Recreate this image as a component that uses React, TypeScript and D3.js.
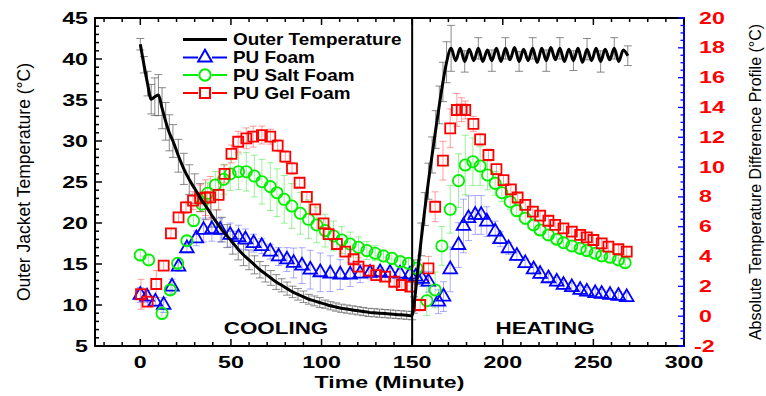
import React from "react"
import { scaleLinear, line, curveMonotoneX, symbol, symbolTriangle, symbolCircle, symbolSquare } from "d3"

// [time (min), temperature, error]
const outerTemp: [number, number, number][] = [
  [0, 41.8, 0.7], [2, 39.3, 1.0], [4, 37.0, 1.5], [6, 35.1, 1.8], [8, 35.4, 2.3], [10, 35.6, 2.5],
  [12, 34.0, 2.5], [14, 32.4, 2.3], [16, 31.0, 2.2], [18, 30.0, 2.0], [21, 28.2, 2.0], [24, 26.6, 1.9],
  [27, 25.3, 1.8], [30, 24.2, 1.8], [33, 23.1, 1.7], [36, 22.1, 1.7], [39, 21.1, 1.6], [42, 20.1, 1.5],
  [45, 19.2, 1.5], [48, 18.4, 1.4], [51, 17.6, 1.4], [54, 16.8, 1.3], [57, 16.1, 1.3], [60, 15.5, 1.2],
  [63, 14.9, 1.1], [66, 14.3, 1.0], [69, 13.8, 1.0], [72, 13.3, 0.9], [75, 12.8, 0.9], [78, 12.4, 0.8],
  [81, 12.0, 0.8], [84, 11.6, 0.7], [87, 11.3, 0.7], [90, 11.0, 0.7], [93, 10.7, 0.6], [96, 10.5, 0.6],
  [99, 10.3, 0.6], [102, 10.1, 0.5], [105, 9.9, 0.5], [108, 9.75, 0.5], [111, 9.6, 0.5], [114, 9.5, 0.5],
  [117, 9.4, 0.5], [120, 9.3, 0.5], [123, 9.2, 0.5], [126, 9.1, 0.5], [129, 9.05, 0.5], [132, 9.0, 0.5],
  [135, 8.95, 0.5], [138, 8.9, 0.5], [141, 8.85, 0.5], [144, 8.8, 0.5], [147, 8.75, 0.5], [150, 8.7, 0.5],
  [151, 10.0, 1.0], [153, 14.0, 1.5], [155, 18.0, 2.0], [157, 21.7, 2.0], [159, 25.1, 2.2], [161, 28.3, 2.2],
  [163, 31.4, 2.3], [165, 34.4, 2.3], [167, 37.2, 2.4], [169, 39.6, 2.5], [171.5, 41.3, 2.8],
  [174, 39.8, 0], [176.5, 41.3, 0], [179, 39.7, 1.3], [181.5, 41.2, 0], [184, 39.8, 0], [186.5, 41.3, 1.3],
  [189, 39.7, 0], [191.5, 41.1, 0], [194, 39.8, 1.3], [196.5, 41.3, 0], [199, 39.7, 0], [201.5, 41.3, 1.3],
  [204, 39.9, 0], [206.5, 41.4, 0], [209, 39.7, 1.2], [211.5, 41.2, 0], [214, 39.8, 0], [216.5, 41.3, 1.3],
  [219, 39.6, 0], [221.5, 41.3, 0], [224, 39.8, 1.3], [226.5, 41.4, 0], [229, 39.9, 0], [231.5, 41.3, 1.3],
  [234, 39.7, 0], [236.5, 41.2, 0], [239, 39.8, 1.2], [241.5, 41.3, 0], [244, 39.6, 0], [246.5, 41.2, 1.3],
  [249, 39.8, 0], [251.5, 41.3, 0], [254, 39.7, 1.3], [256.5, 41.2, 0], [259, 39.9, 0], [261.5, 41.3, 1.3],
  [264, 39.7, 0], [266.5, 41.1, 0], [269, 40.4, 1.2],
]

// [time (min), abs. temperature difference, error]
const puFoam: [number, number, number][] = [
  [0, 1.42, 0.5], [3.7, 1.31, 0.4], [8.3, 0.97, 0.3], [12.9, 0.75, 0.5], [17.5, 1.98, 0.5], [21.1, 3.32, 0.3],
  [25.7, 4.55, 0.3], [30.9, 5.22, 0.5], [34.9, 5.78, 0.8], [39.5, 5.83, 0.8], [44.1, 5.78, 0.8], [49.6, 5.45, 0.8],
  [54.2, 5.3, 0.8], [58, 5.15, 0.7], [62.5, 4.9, 0.6], [67, 4.7, 0.5], [71.7, 4.33, 0.5], [76.3, 4.0, 0.6],
  [80.9, 3.8, 0.8], [84.6, 3.57, 1.0], [89.2, 3.39, 1.2], [93.8, 3.12, 1.3], [99.3, 2.94, 1.3], [104.8, 2.85, 1.2],
  [110.3, 2.79, 1.0], [115.8, 2.79, 0.8], [121.3, 2.85, 0.6], [126.8, 2.9, 0.4], [132.3, 2.94, 0.3], [137.8, 2.9, 0.3],
  [143.3, 2.85, 0.3], [148.8, 2.79, 0.3], [152, 2.65, 0.4], [155.5, 2.5, 0.5], [159, 2.31, 0.7], [164.5, 0.97, 0.8],
  [167.3, 1.31, 1.0], [171, 3.14, 1.5], [175.6, 4.77, 1.5], [178.3, 6.05, 1.8], [181.1, 6.57, 1.5], [184.8, 6.79, 1.3],
  [188.1, 6.79, 1.3], [191.2, 6.34, 1.0], [195.8, 5.67, 0.7], [198.6, 5.16, 0.5], [203.2, 4.55, 0.4], [207.8, 4.04, 0.3],
  [212.4, 3.55, 0.3], [217, 3.14, 0.3], [220.6, 2.83, 0.3], [225.2, 2.54, 0.3], [229.8, 2.31, 0.3], [233.5, 2.09, 0.3],
  [238.1, 1.94, 0.3], [242.7, 1.76, 0.3], [246.4, 1.64, 0.3], [251, 1.54, 0.3], [254.6, 1.49, 0.3], [259.2, 1.42, 0.3],
  [263.8, 1.36, 0.3], [268.4, 1.27, 0.3],
]

const puSaltFoam: [number, number, number][] = [
  [0, 4.1, 0.3], [4.6, 3.77, 0.3], [12, 0.19, 0.4], [16.5, 1.76, 0.3], [20.6, 3.55, 0.3], [25.7, 5.06, 0.3],
  [29.4, 6.41, 0.4], [34, 7.52, 0.5], [37.1, 8.24, 0.7], [41.4, 8.8, 0.9], [46, 9.18, 1.0], [49.6, 9.54, 1.1],
  [54.2, 9.69, 1.2], [58.5, 9.69, 1.3], [62.9, 9.4, 1.4], [67.1, 9.02, 1.5], [71.7, 8.69, 1.6], [75.4, 8.28, 1.6],
  [79.4, 7.84, 1.6], [83.6, 7.39, 1.5], [88.3, 6.9, 1.4], [92.8, 6.5, 1.3], [97.4, 6.12, 1.2], [102, 5.74, 1.1],
  [106.6, 5.38, 1.0], [111.2, 5.11, 0.9], [115.8, 4.84, 0.8], [120.4, 4.62, 0.7], [125, 4.4, 0.6], [129.6, 4.22, 0.5],
  [134.2, 4.04, 0.4], [138.8, 3.88, 0.4], [143.4, 3.66, 0.3], [148, 3.55, 0.3], [152.6, 3.21, 0.4], [158.1, 1.04, 1.0],
  [162.7, 1.76, 1.2], [166.4, 4.71, 1.3], [171, 7.17, 1.6], [175.6, 9.09, 1.8], [179.3, 10.14, 2.0], [183.5, 10.36, 1.6],
  [187.5, 10.07, 1.3], [191.6, 9.47, 1.0], [195.8, 8.91, 0.8], [199.5, 8.28, 0.6], [204.1, 7.68, 0.5], [207.7, 7.08, 0.4],
  [212.4, 6.57, 0.4], [217, 6.12, 0.3], [220.6, 5.78, 0.3], [225.2, 5.45, 0.3], [229.8, 5.16, 0.3], [233.5, 4.93, 0.3],
  [238.1, 4.71, 0.3], [242.7, 4.55, 0.3], [246.4, 4.4, 0.3], [251, 4.22, 0.3], [254.6, 4.04, 0.3], [259.2, 3.95, 0.3],
  [263.8, 3.77, 0.3], [267.5, 3.59, 0.3],
]

const puGelFoam: [number, number, number][] = [
  [0.4, 1.47, 1.0], [4, 0.97, 0.3], [8.8, 2.16, 0.9], [12.9, 3.39, 0.3], [16.9, 5.56, 0.3], [21.1, 6.63, 0.3],
  [25.2, 7.3, 0.4], [29.1, 7.75, 0.6], [33.1, 7.9, 0.9], [36, 7.95, 1.2], [38.6, 7.97, 1.4], [43.2, 8.13, 1.0],
  [46.5, 9.54, 0.6], [50.3, 10.88, 0.6], [54, 11.7, 0.7], [58.5, 11.93, 0.7], [62.3, 12.04, 0.7], [67.1, 12.15, 0.6],
  [71.7, 12.04, 0.5], [75.8, 11.44, 0.4], [80, 10.7, 0.4], [83.7, 9.92, 0.4], [87.9, 8.95, 0.3], [91.9, 8.0, 0.3],
  [96.5, 7.17, 0.3], [101.1, 6.23, 0.3], [103.9, 5.51, 0.3], [108.5, 4.84, 0.3], [113.1, 4.33, 0.3], [117.7, 3.82, 0.3],
  [120.4, 3.32, 0.3], [126, 3.05, 0.3], [130.2, 2.76, 0.3], [135.1, 2.65, 0.3], [140.1, 2.31, 0.3], [144.3, 2.09, 0.3],
  [149, 1.98, 0.3], [154.4, 0.75, 0.4], [159, 3.21, 0.8], [162.7, 7.34, 1.0], [167, 10.43, 1.3], [171, 12.6, 1.3],
  [174.7, 13.83, 1.1], [177.3, 13.85, 0.8], [179.3, 13.83, 0.6], [183.8, 12.9, 0.5], [187.5, 11.86, 0.4], [192.1, 10.81, 0.4],
  [196.5, 9.87, 0.3], [200.4, 9.13, 0.3], [204.5, 8.51, 0.3], [208.2, 7.96, 0.3], [212.4, 7.46, 0.3], [216.6, 7.01, 0.3],
  [220.6, 6.74, 0.3], [225.2, 6.4, 0.3], [228.9, 6.12, 0.3], [233.5, 5.89, 0.3], [238.1, 5.67, 0.3], [242.7, 5.45, 0.3],
  [246.4, 5.29, 0.3], [250, 5.11, 0.3], [254.6, 4.89, 0.3], [258.3, 4.66, 0.3], [263.8, 4.49, 0.3], [268.4, 4.33, 0.3],
]

const legendLabels = ["Outer Temperature", "PU Foam", "PU Salt Foam", "PU Gel Foam"]
const phaseLabels = ["COOLING", "HEATING"]
const phaseSplit = 150

const FONT = "'Liberation Sans', Arial, sans-serif"

function SText({ x, y, sx = 1, anchor = "start", size = 16, weight = "bold", fill = "#000", children }: any) {
  return (
    <text
      transform={`translate(${x},${y}) scale(${sx},1)`}
      textAnchor={anchor}
      fontSize={size}
      fontWeight={weight}
      fill={fill}
      fontFamily={FONT}
    >
      {children}
    </text>
  )
}

export default function App() {
  const x = scaleLinear().domain([-25, 300]).range([95, 684])
  const yL = scaleLinear().domain([5, 45]).range([346, 18])
  const yR = scaleLinear().domain([-2, 20]).range([346, 18])
  const [left, right] = x.range()
  const [bottom, top] = yL.range()

  const outerLine = line<[number, number, number]>()
    .x((d) => x(d[0]))
    .y((d) => yL(d[1]))
    .curve(curveMonotoneX)

  const tri = symbol(symbolTriangle, 80)()!
  const circ = symbol(symbolCircle, 100)()!
  const sq = symbol(symbolSquare, 100)()!

  const series = [
    { data: puFoam, color: "#0000ff", err: "rgba(70,70,255,0.45)", shape: tri },
    { data: puSaltFoam, color: "#00f000", err: "rgba(0,220,0,0.4)", shape: circ },
    { data: puGelFoam, color: "#ff0000", err: "rgba(255,40,40,0.45)", shape: sq },
  ]

  const errBar = (cx: number, y0: number, y1: number, w: number, color: string, key: string) => (
    <g key={key} stroke={color} strokeWidth={1}>
      <line x1={cx} x2={cx} y1={y0} y2={y1} />
      <line x1={cx - w / 2} x2={cx + w / 2} y1={y0} y2={y0} />
      <line x1={cx - w / 2} x2={cx + w / 2} y1={y1} y2={y1} />
    </g>
  )

  const legendRows = [39.5, 57.5, 75, 93]

  return (
    <div style={{ position: "absolute", left: 0, top: 0 }}>
      <svg width={766} height={396} style={{ display: "block", background: "#fff" }}>
        {/* outer temperature error bars */}
        {outerTemp.filter((d) => d[2] > 0).map((d, i) =>
          errBar(x(d[0]), yL(d[1] - d[2]), yL(d[1] + d[2]), 8, "rgba(90,90,90,0.7)", `oe${i}`)
        )}

        {/* series error bars */}
        {series.map((s, si) =>
          s.data.map((d, i) => errBar(x(d[0]), yR(d[1] - d[2]), yR(d[1] + d[2]), 7, s.err, `se${si}-${i}`))
        )}

        {/* series markers */}
        {series.map((s, si) => (
          <g key={si} fill="none" stroke={s.color} strokeWidth={1.8}>
            {s.data.map((d, i) => (
              <path key={i} d={s.shape} transform={`translate(${x(d[0])},${yR(d[1])})`} />
            ))}
          </g>
        ))}

        {/* outer temperature line */}
        <path d={outerLine(outerTemp)!} fill="none" stroke="#000" strokeWidth={3} strokeLinejoin="round" />

        {/* phase divider */}
        <line x1={x(phaseSplit)} x2={x(phaseSplit)} y1={top} y2={bottom} stroke="#000" strokeWidth={2} />

        {/* frame */}
        <line x1={left} x2={right} y1={top} y2={top} stroke="#000" strokeWidth={2} />
        <line x1={left} x2={right} y1={bottom} y2={bottom} stroke="#000" strokeWidth={2} />
        <line x1={left} x2={left} y1={top - 1} y2={bottom + 1} stroke="#000" strokeWidth={2} />
        <line x1={right} x2={right} y1={top - 1} y2={bottom + 1} stroke="#0000ff" strokeWidth={2} />

        {/* left axis ticks */}
        {yL.ticks(40).map((v, i) => {
          const major = v % 5 === 0
          return <line key={`lt${i}`} x1={left} x2={left + (major ? 7 : 4)} y1={yL(v)} y2={yL(v)} stroke="#000" strokeWidth={1.5} />
        })}
        {yL.ticks(8).map((v, i) => (
          <SText key={`ll${i}`} x={88} y={yL(v) + 5.5} sx={1.45} anchor="end">{v}</SText>
        ))}

        {/* bottom & top ticks */}
        {x.ticks(33).map((v, i) => {
          const major = v % 50 === 0
          const len = major ? 7 : 4
          return (
            <g key={`bt${i}`} stroke="#000" strokeWidth={1.5}>
              <line x1={x(v)} x2={x(v)} y1={bottom} y2={bottom - len} />
              <line x1={x(v)} x2={x(v)} y1={top} y2={top + len} />
            </g>
          )
        })}
        {x.ticks(7).map((v, i) => (
          <SText key={`bl${i}`} x={x(v)} y={368} sx={1.45} anchor="middle">{v}</SText>
        ))}

        {/* right axis ticks */}
        {yR.ticks(44).map((v, i) => {
          const major = Math.abs(v % 2) < 1e-9
          return <line key={`rt${i}`} x1={right} x2={right - (major ? 6 : 3.5)} y1={yR(v)} y2={yR(v)} stroke="#0000ff" strokeWidth={1.3} />
        })}
        {yR.ticks(11).map((v, i) => (
          <SText key={`rl${i}`} x={v < 0 ? 694 : 699} y={yR(v) + 5.5} sx={1.45} fill="#ff0000">{v}</SText>
        ))}

        {/* axis titles */}
        <SText x={(left + right) / 2 + 0} y={388} sx={1.36} size={17} anchor="middle">Time (Minute)</SText>
        <text transform={`translate(30,${(top + bottom) / 2}) rotate(-90)`} textAnchor="middle" fontSize={17.5} fontFamily={FONT} fill="#000">
          Outer Jacket Temperature (°C)
        </text>
        <text transform={`translate(761,${(top + bottom) / 2}) rotate(-90)`} textAnchor="middle" fontSize={16} fontFamily={FONT} fill="#000">
          Absolute Temperature Difference Profile (°C)
        </text>

        {/* phase labels */}
        <SText x={276} y={334} sx={1.4} anchor="middle">{phaseLabels[0]}</SText>
        <SText x={545} y={334} sx={1.4} anchor="middle">{phaseLabels[1]}</SText>

        {/* legend */}
        <line x1={183} x2={227} y1={legendRows[0]} y2={legendRows[0]} stroke="#000" strokeWidth={3} />
        {series.map((s, i) => (
          <g key={`lg${i}`} stroke={s.color} strokeWidth={2} fill="none">
            <line x1={183} x2={198} y1={legendRows[i + 1]} y2={legendRows[i + 1]} />
            <line x1={212} x2={227} y1={legendRows[i + 1]} y2={legendRows[i + 1]} />
            <path d={s.shape} transform={`translate(205,${legendRows[i + 1]})`} />
          </g>
        ))}
        {legendLabels.map((l, i) => (
          <SText key={`lt${i}`} x={233} y={legendRows[i] + 5.8} sx={1.18} size={16}>{l}</SText>
        ))}
      </svg>
    </div>
  )
}
